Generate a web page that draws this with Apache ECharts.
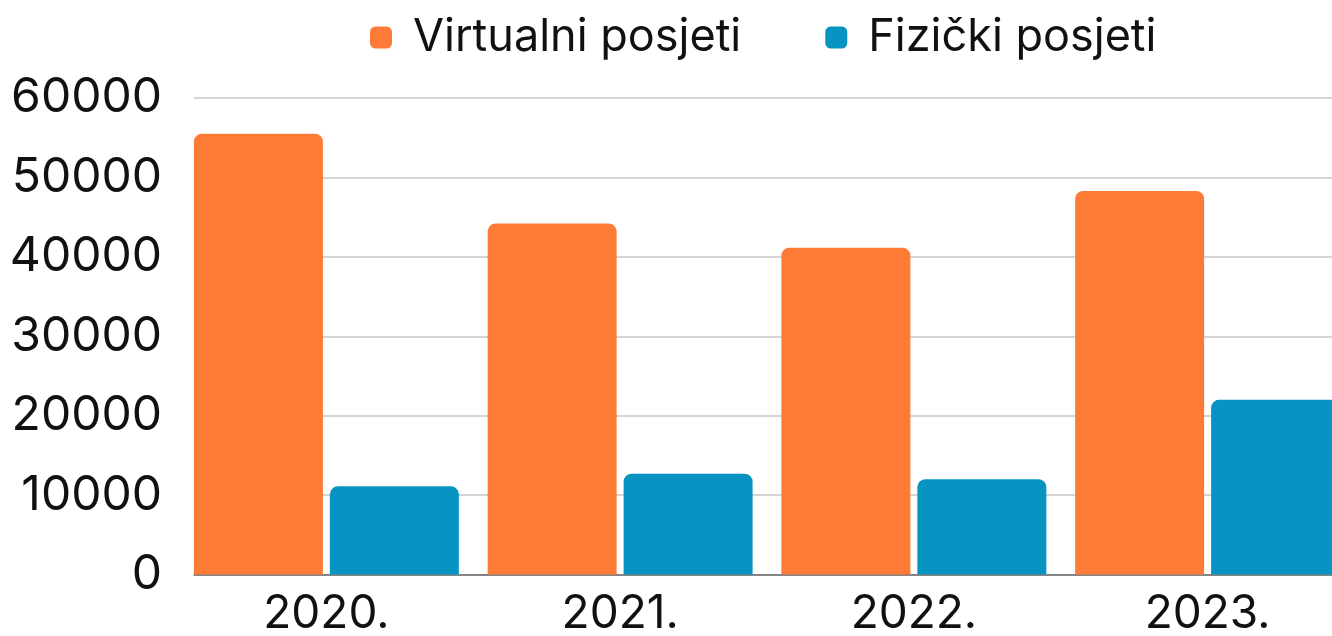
<!DOCTYPE html>
<html><head><meta charset="utf-8">
<script src="https://cdn.jsdelivr.net/npm/echarts@6/dist/echarts.min.js"></script>
<style>html,body{margin:0;padding:0;background:#fff}#c{width:1332px;height:636px}</style>
</head><body><div id="c"></div>
<script>
const categories = ['2020.', '2021.', '2022.', '2023.'];
const virtualni = [55500, 44200, 41150, 48300];
const fizicki = [11100, 12700, 12000, 22000];
const yTicks = [0, 10000, 20000, 30000, 40000, 50000, 60000];

const FONT = 'Inter';
const chart = echarts.init(document.getElementById('c'));
chart.setOption({
  animation: false,
  textStyle: { fontFamily: FONT },
  legend: {
    left: 365, top: 10,
    itemWidth: 22, itemHeight: 22, itemGap: 84,
    icon: 'roundRect',
    textStyle: { fontFamily: FONT, fontSize: 45, color: '#111', padding: [0, 0, 0, 16] },
    data: ['Virtualni posjeti', 'Fizički posjeti']
  },
  grid: [
    { left: 179.5, width: 1175, top: 98, bottom: 61.5, outerBoundsMode: 'none', containLabel: false },
    { left: 194, right: 0, top: 98, bottom: 61.5, outerBoundsMode: 'none', containLabel: false }
  ],
  xAxis: [
    { type: 'category', gridIndex: 0, data: categories,
      axisLine: { show: false }, axisTick: { show: false },
      axisLabel: { fontFamily: FONT, fontSize: 46, color: '#111', margin: 17 } },
    { type: 'category', gridIndex: 1, data: categories,
      axisLine: { show: true, lineStyle: { color: '#6b6b6b', width: 1.5 } },
      axisTick: { show: false }, axisLabel: { show: false } }
  ],
  yAxis: [
    { type: 'value', gridIndex: 0, min: 0, max: 60000, interval: 10000, show: false },
    { type: 'value', gridIndex: 1, min: yTicks[0], max: yTicks[yTicks.length - 1], interval: yTicks[1] - yTicks[0],
      axisLine: { show: false }, axisTick: { show: false },
      splitLine: { lineStyle: { color: '#c6c6c6', width: 1.5 } },
      axisLabel: { fontFamily: FONT, fontSize: 48, color: '#111', margin: 32, formatter: v => String(v) } }
  ],
  series: [
    { name: 'Virtualni posjeti', type: 'bar', xAxisIndex: 0, yAxisIndex: 0, data: virtualni,
      barWidth: 129, barGap: '5.4%', itemStyle: { color: '#FE7B37', borderRadius: [8, 8, 0, 0] } },
    { name: 'Fizički posjeti', type: 'bar', xAxisIndex: 0, yAxisIndex: 0, data: fizicki,
      barWidth: 129, barGap: '5.4%', itemStyle: { color: '#0894C2', borderRadius: [8, 8, 0, 0] } }
  ]
});
</script></body></html>
